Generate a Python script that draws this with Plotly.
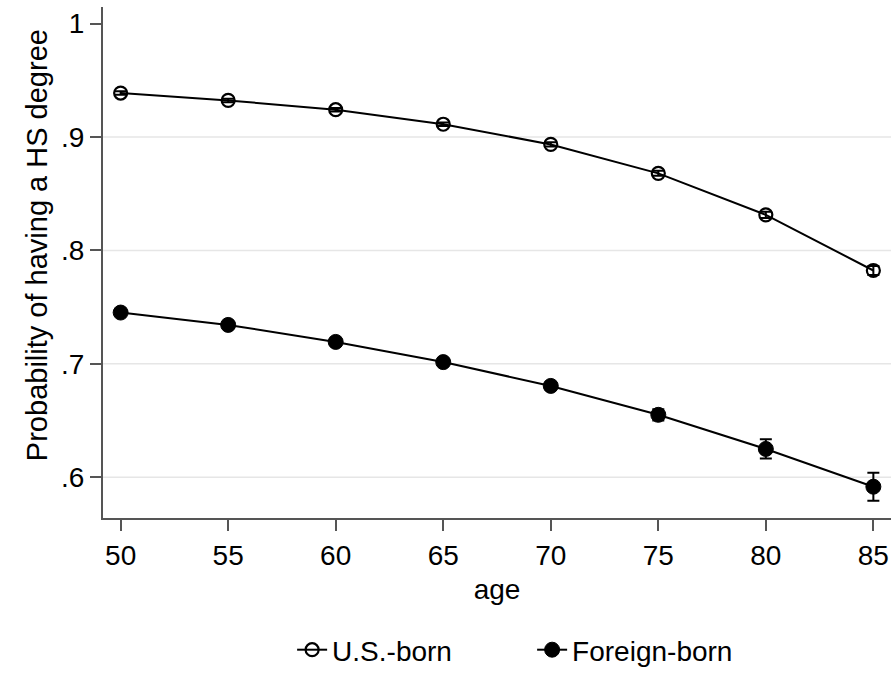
import plotly.graph_objects as go

ages = [50, 55, 60, 65, 70, 75, 80, 85]
us_born = [0.9388, 0.9323, 0.9241, 0.9113, 0.8935, 0.8680, 0.8314, 0.7823]
us_err = [0.0015, 0.0015, 0.0015, 0.0015, 0.0018, 0.0022, 0.0028, 0.0040]
foreign_born = [0.7452, 0.7343, 0.7193, 0.7015, 0.6805, 0.6550, 0.6249, 0.5916]
foreign_err = [0.0025, 0.0025, 0.0028, 0.0030, 0.0035, 0.0050, 0.0085, 0.0124]

y_tickvals = [0.6, 0.7, 0.8, 0.9, 1.0]
y_ticktext = [".6", ".7", ".8", ".9", "1"]
grid_vals = [0.6, 0.7, 0.8, 0.9]
x_tickvals = [50, 55, 60, 65, 70, 75, 80, 85]
y_title = "Probability of having a HS degree"

FONT = "Liberation Sans, Arial, sans-serif"

fig = go.Figure()
fig.add_trace(go.Scatter(
    x=ages, y=us_born, name="U.S.-born", mode="lines+markers",
    line=dict(color="black", width=2),
    marker=dict(symbol="circle", size=13, color="rgba(0,0,0,0)", line=dict(color="black", width=2.2)),
    error_y=dict(type="data", array=us_err, color="black", thickness=2, width=6),
))
fig.add_trace(go.Scatter(
    x=ages, y=foreign_born, name="Foreign-born", mode="lines+markers",
    line=dict(color="black", width=2),
    marker=dict(symbol="circle", size=15, color="black", line=dict(color="black", width=1)),
    error_y=dict(type="data", array=foreign_err, color="black", thickness=2, width=6),
))

for g in grid_vals:
    fig.add_shape(type="line", xref="paper", yref="y", x0=0, x1=1, y0=g, y1=g,
                  line=dict(color="#e6e6e6", width=1.5), layer="below")

fig.add_annotation(text=y_title, textangle=-90, xref="paper", yref="paper",
                   x=(37 - 103) / 788, y=0.534, xanchor="center", yanchor="middle",
                   showarrow=False, font=dict(size=29, color="black", family=FONT))

fig.update_layout(
    width=892, height=675,
    margin=dict(l=103, r=1, t=7, b=157, autoexpand=False),
    paper_bgcolor="white", plot_bgcolor="white",
    font=dict(family=FONT, size=28, color="black"),
    showlegend=True,
    legend=dict(orientation="h", x=0.24, xanchor="left", yref="container", y=0.0,
                yanchor="bottom", font=dict(size=28), entrywidth=195,
                entrywidthmode="pixels", traceorder="normal",
                bgcolor="rgba(0,0,0,0)"),
    xaxis=dict(range=[49.18, 85.82], tickvals=x_tickvals, showgrid=False, zeroline=False,
               showline=True, linecolor="#555555", linewidth=2,
               ticks="outside", ticklen=11, tickwidth=2, tickcolor="#555555",
               tickfont=dict(size=28), title=dict(text="age", font=dict(size=28), standoff=10)),
    yaxis=dict(range=[0.564, 1.0147], tickvals=y_tickvals, ticktext=y_ticktext,
               showgrid=False, zeroline=False,
               showline=True, linecolor="#555555", linewidth=2,
               ticks="outside", ticklen=11, tickwidth=2, tickcolor="#555555",
               tickfont=dict(size=28)),
)

fig.write_html("out.html")
